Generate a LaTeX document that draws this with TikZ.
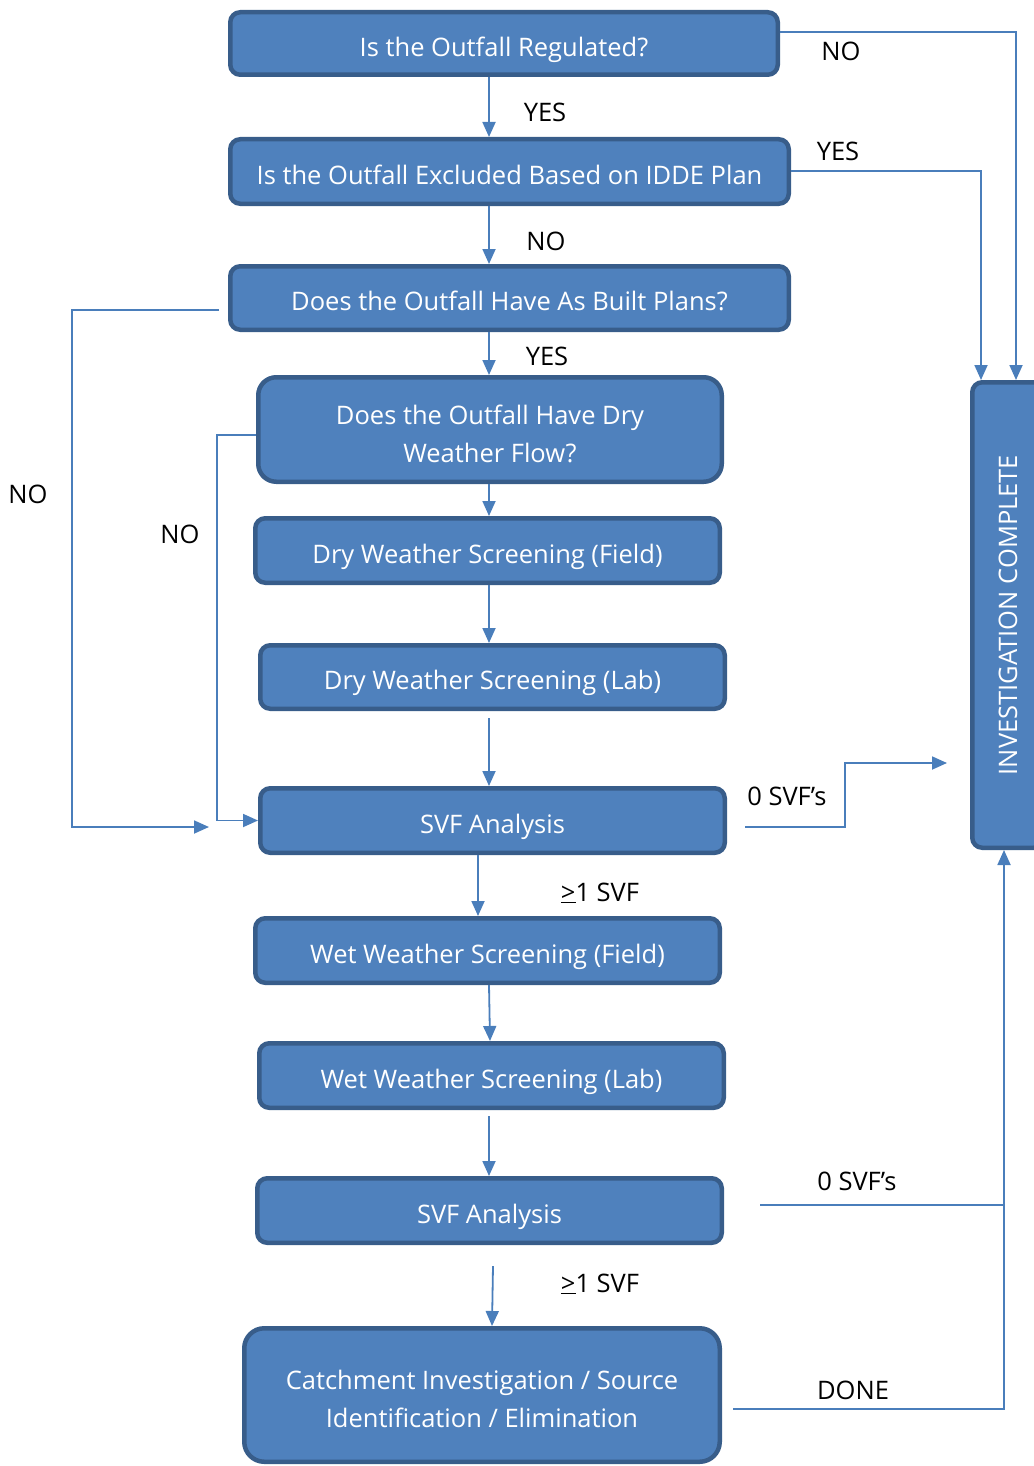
\documentclass[tikz,border=0pt]{standalone}
\usepackage{fontspec}
\setmainfont{Open Sans}
\usetikzlibrary{arrows.meta}
\definecolor{boxfill}{HTML}{4F81BD}
\definecolor{boxedge}{HTML}{385D8A}
\definecolor{linkblue}{HTML}{4A7EBB}
\newcommand{\toppad}{\rule{0pt}{28pt}}

\begin{document}
\begin{tikzpicture}[x=1pt,y=-1pt,font=\fontsize{25.5}{38}\selectfont,
    stepbox/.style={rectangle,rounded corners=10pt,draw=boxedge,line width=4.5pt,fill=boxfill,text=white,align=center,inner sep=0pt,text height=25.5pt,text depth=0pt},
    twoline/.style={text height={},text depth={}},
    link/.style={draw=linkblue,line width=1.8pt},
    flow/.style={link,-{Triangle[length=15pt,width=13pt]}},
    tag/.style={text=black,inner sep=0pt}]
    \useasboundingbox (0,0) rectangle (1033,1466);

    \node[stepbox,minimum width=547.5pt,minimum height=62.5pt] (reg) at (504,43.5) {Is the Outfall Regulated?};
    \node[stepbox,minimum width=558.5pt,minimum height=64.5pt] (excl) at (509.5,171.5) {Is the Outfall Excluded Based on IDDE Plan};
    \node[stepbox,minimum width=558.5pt,minimum height=63.5pt] (plans) at (509.5,298) {Does the Outfall Have As Built Plans?};
    \node[stepbox,twoline,rounded corners=18pt,minimum width=463.5pt,minimum height=104.5pt] (dwf) at (490,429.5) {\toppad Does the Outfall Have Dry\\Weather Flow?};
    \node[stepbox,minimum width=464.5pt,minimum height=64.5pt] (dwsf) at (487.5,550.5) {Dry Weather Screening (Field)};
    \node[stepbox,minimum width=464.5pt,minimum height=63.5pt] (dwsl) at (492.5,677) {Dry Weather Screening (Lab)};
    \node[stepbox,minimum width=464.5pt,minimum height=64.5pt] (sva1) at (492.5,820.5) {SVF Analysis};
    \node[stepbox,minimum width=464.5pt,minimum height=64.5pt] (wwsf) at (487.5,950.5) {Wet Weather Screening (Field)};
    \node[stepbox,minimum width=464.5pt,minimum height=64.5pt] (wwsl) at (491.5,1075.5) {Wet Weather Screening (Lab)};
    \node[stepbox,minimum width=464.5pt,minimum height=64.5pt] (sva2) at (489.5,1210.5) {SVF Analysis};
    \node[stepbox,twoline,rounded corners=20pt,minimum width=475.5pt,minimum height=133.5pt] (elim) at (482,1395) {\toppad Catchment Investigation / Source\\Identification / Elimination};
    \node[stepbox,minimum width=71.5pt,minimum height=465.5pt] (done) at (1008,615) {};
    \node[text=white,rotate=90] (donetext) at (done) {INVESTIGATION COMPLETE};

    % free ends of the side connectors
    \coordinate (plansno) at (219,310);
    \coordinate (plansnoend) at (209,827);
    \coordinate (sva1out) at (745,827);
    \coordinate (sva1end) at (947,763);
    \coordinate (sva2out) at (760,1205);
    \coordinate (elimout) at (733,1409);

    % main line
    \draw[flow] (reg.south -| 489,0) -- (excl.north -| 489,0);
    \draw[flow] (excl.south -| 489,0) -- (plans.north -| 489,0);
    \draw[flow] (plans.south -| 489,0) -- (dwf.north -| 489,0);
    \draw[flow] (dwf.south -| 489,0) -- (dwsf.north -| 489,0);
    \draw[flow] (dwsf.south -| 489,0) -- (dwsl.north -| 489,0);
    \draw[flow] ([yshift=-7pt]dwsl.south -| 489,0) -- (sva1.north -| 489,0);
    \draw[flow] (sva1.south -| 478,0) -- (wwsf.north -| 478,0);
    \draw[flow] (wwsf.south -| 489,0) -- (wwsl.north -| 490,0);
    \draw[flow] ([yshift=-6pt]wwsl.south -| 489,0) -- (sva2.north -| 489,0);
    \draw[flow] ([yshift=-21pt]sva2.south -| 493,0) -- (elim.north -| 492,0);

    % side branches
    \draw[flow] (reg.east |- 0,32) -| (done.north -| 1016,0);
    \draw[flow] (excl.east |- 0,171) -| (done.north -| 981,0);
    \draw[flow] (plansno) -- (72,310) |- (plansnoend);
    \draw[flow] (dwf.west |- 0,435) -- (217,435) |- (sva1.west);
    \draw[flow] (sva1out) -- (845,827) |- (sva1end);
    \draw[link] (sva2out) -- (1004,1205);
    \draw[flow] (elimout) -| (done.south -| 1004,0);

    \node[tag] (l1) at (841,51) {NO};
    \node[tag] (l2) at (545,112) {YES};
    \node[tag] (l3) at (838,151) {YES};
    \node[tag] (l4) at (546,241) {NO};
    \node[tag] (l5) at (547,356) {YES};
    \node[tag] (l6) at (28,494) {NO};
    \node[tag] (l7) at (180,534) {NO};
    \node[tag] (l8) at (787,796) {0 SVF’s};
    \node[tag] (l9) at (600,893) {\underline{>}1 SVF};
    \node[tag] (l10) at (857,1181) {0 SVF’s};
    \node[tag] (l11) at (600,1284) {\underline{>}1 SVF};
    \node[tag] (l12) at (853,1390) {DONE};
\end{tikzpicture}
\end{document}
